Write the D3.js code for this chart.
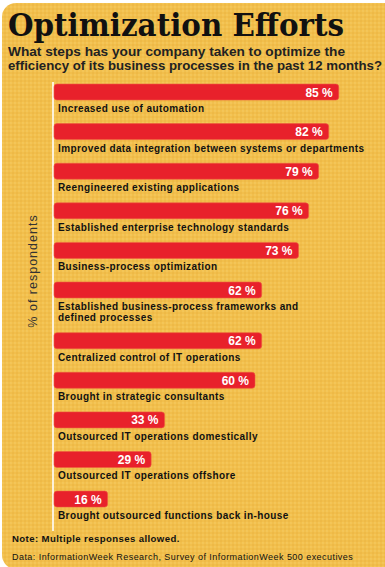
<!DOCTYPE html>
<meta charset="utf-8">
<head>
    <title>Optimization Efforts</title>
    <style>
        body { margin: 0; background: #fff; }
        svg { display: block; }
    </style>
</head>
<body>
    <script src="https://cdn.jsdelivr.net/npm/d3@7"></script>
    <svg id="chart"></svg>
    <script>
        // data
        var categories = [
            ["Increased use of automation"],
            ["Improved data integration between systems or departments"],
            ["Reengineered existing applications"],
            ["Established enterprise technology standards"],
            ["Business-process optimization"],
            ["Established business-process frameworks and", "defined processes"],
            ["Centralized control of IT operations"],
            ["Brought in strategic consultants"],
            ["Outsourced IT operations domestically"],
            ["Outsourced IT operations offshore"],
            ["Brought outsourced functions  back in-house"]
        ];
        var values = [85, 82, 79, 76, 73, 62, 62, 60, 33, 29, 16];

        var titleText = "Optimization Efforts";
        var subtitleLines = [
            "What steps has your company taken to optimize the",
            "efficiency of its business processes in the past 12 months?"
        ];
        var axisTitle = "% of respondents";
        var noteText = "Note: Multiple responses allowed.";
        var sourceText = "Data: InformationWeek Research, Survey of InformationWeek 500 executives";

        var width = 385, height = 567;
        var svg = d3.select("#chart")
            .attr("width", width)
            .attr("height", height);

        // background panel with halftone-ish texture
        var defs = svg.append("defs");
        var pat = defs.append("pattern")
            .attr("id", "dots")
            .attr("width", 4).attr("height", 4)
            .attr("patternUnits", "userSpaceOnUse");
        pat.append("rect").attr("width", 4).attr("height", 4).attr("fill", "#f2bf4c");
        pat.append("circle").attr("cx", 1).attr("cy", 1).attr("r", 0.9).attr("fill", "#e9b040").attr("opacity", 0.6);
        pat.append("circle").attr("cx", 3).attr("cy", 3).attr("r", 0.9).attr("fill", "#f7cf6a").attr("opacity", 0.6);

        svg.append("rect")
            .attr("x", 2).attr("y", 3)
            .attr("width", 420).attr("height", 566)
            .attr("rx", 14)
            .attr("fill", "url(#dots)");

        // title
        svg.append("text")
            .attr("x", 8).attr("y", 36)
            .attr("textLength", 336)
            .attr("lengthAdjust", "spacingAndGlyphs")
            .style("font-family", "'DejaVu Serif', serif")
            .style("font-weight", "bold")
            .style("font-size", "31px")
            .style("fill", "#111")
            .text(titleText);

        var subLen = [337, 374];
        svg.selectAll(".subtitle")
            .data(subtitleLines)
            .enter().append("text")
            .attr("class", "subtitle")
            .attr("x", 8)
            .attr("y", function(d, i) { return 56 + i * 13.5; })
            .attr("textLength", function(d, i) { return subLen[i]; })
            .attr("lengthAdjust", "spacingAndGlyphs")
            .style("font-family", "'Liberation Sans', Arial, sans-serif")
            .style("font-weight", "bold")
            .style("font-size", "13px")
            .style("fill", "#222")
            .text(function(d) { return d; });

        // scales
        var x0 = 54;
        var x = d3.scaleLinear().domain([0, 100]).range([x0, x0 + 335]);

        // row slots: extra label lines push later rows down
        var slots = [];
        var acc = 0;
        categories.forEach(function(c, i) {
            slots.push(i + acc);
            acc += (c.length - 1) * 0.28;
        });
        var y = d3.scaleLinear().domain([0, 1]).range([84, 84 + 39.6]);
        var barH = 16;

        // white axis line
        svg.append("line")
            .attr("x1", x0 - 1).attr("x2", x0 - 1)
            .attr("y1", 82).attr("y2", 531)
            .attr("stroke", "#fff")
            .attr("stroke-width", 1.6);

        var rows = svg.selectAll(".row")
            .data(values)
            .enter().append("g")
            .attr("class", "row")
            .attr("transform", function(d, i) { return "translate(0," + y(slots[i]) + ")"; });

        rows.append("rect")
            .attr("x", x(0))
            .attr("y", 0)
            .attr("width", function(d) { return x(d) - x(0); })
            .attr("height", barH)
            .attr("rx", 3)
            .attr("fill", "#e8212b")
            .attr("stroke", "#ef5a3c")
            .attr("stroke-width", 0.6);

        rows.append("text")
            .attr("x", function(d) { return x(d) - 6; })
            .attr("y", 12.5)
            .attr("text-anchor", "end")
            .style("font-family", "'Liberation Sans', Arial, sans-serif")
            .style("font-weight", "bold")
            .style("font-size", "12px")
            .style("fill", "#fff")
            .text(function(d) { return d + " %"; });

        rows.each(function(d, i) {
            d3.select(this).selectAll(".cat")
                .data(categories[i])
                .enter().append("text")
                .attr("class", "cat")
                .attr("x", 58)
                .attr("y", function(t, j) { return 28 + j * 11; })
                .style("font-family", "'Liberation Sans', Arial, sans-serif")
                .style("font-weight", "bold")
                .style("font-size", "10px")
                .style("letter-spacing", "0.4px")
                .style("fill", "#111")
                .text(function(t) { return t; });
        });

        // axis title
        svg.append("text")
            .attr("transform", "translate(37,271) rotate(-90)")
            .attr("text-anchor", "middle")
            .style("font-family", "'Liberation Sans', Arial, sans-serif")
            .style("font-size", "12.5px")
            .style("letter-spacing", "1px")
            .style("fill", "#333")
            .text(axisTitle);

        // footnotes
        svg.append("text")
            .attr("x", 12).attr("y", 542)
            .style("font-family", "'Liberation Sans', Arial, sans-serif")
            .style("font-weight", "bold")
            .style("font-size", "9.6px")
            .style("letter-spacing", "0.4px")
            .style("fill", "#111")
            .text(noteText);

        svg.append("text")
            .attr("x", 12).attr("y", 560)
            .style("font-family", "'Liberation Sans', Arial, sans-serif")
            .style("font-size", "9px")
            .style("letter-spacing", "0.45px")
            .style("fill", "#111")
            .text(sourceText);
    </script>
</body>
</html>
